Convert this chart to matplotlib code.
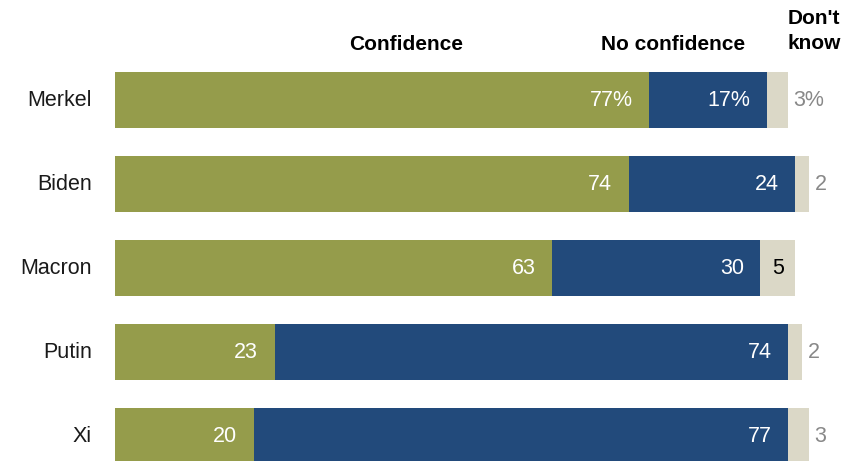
import matplotlib.pyplot as plt

# Data
leaders = ["Merkel", "Biden", "Macron", "Putin", "Xi"]
confidence = [77, 74, 63, 23, 20]
no_confidence = [17, 24, 30, 74, 77]
dont_know = [3, 2, 5, 2, 3]

green = "#959c4b"
blue = "#224a7b"
beige = "#dbd8c7"

plt.rcParams['font.family'] = ['Liberation Sans', 'DejaVu Sans']

fig = plt.figure(figsize=(8.45, 4.61), dpi=100)
ax = fig.add_axes([115 / 845, 0, 694 / 845, 1])

ypos = list(range(len(leaders)))
h = 56 / 84

ax.barh(ypos, confidence, height=h, color=green)
ax.barh(ypos, no_confidence, height=h, left=confidence, color=blue)
left2 = [c + n for c, n in zip(confidence, no_confidence)]
ax.barh(ypos, dont_know, height=h, left=left2, color=beige)

ax.set_xlim(0, 100)
ax.set_ylim((461 - 100) / 84, -100 / 84)
ax.axis('off')

fs = 15.5
pad = 2.4  # data units (~17 px)
for i, name in enumerate(leaders):
    suf = "%" if i == 0 else ""
    ax.text(-3.3, i, name, ha='right', va='center', fontsize=fs, color='#1a1a1a')
    ax.text(confidence[i] - pad, i, f"{confidence[i]}{suf}", ha='right', va='center',
            fontsize=fs, color='white')
    ax.text(left2[i] - pad, i, f"{no_confidence[i]}{suf}", ha='right', va='center',
            fontsize=fs, color='white')
    if dont_know[i] >= 5:
        ax.text(left2[i] + dont_know[i] / 2, i, f"{dont_know[i]}{suf}", ha='center',
                va='center', fontsize=fs, color='black')
    else:
        ax.text(left2[i] + dont_know[i] + 0.8, i, f"{dont_know[i]}{suf}", ha='left',
                va='center', fontsize=fs, color='#888888')

hfs = 15
fig.text(406 / 845, 1 - 45 / 461, "Confidence", ha='center', va='center',
         fontsize=hfs, fontweight='bold')
fig.text(673 / 845, 1 - 45 / 461, "No confidence", ha='center', va='center',
         fontsize=hfs, fontweight='bold')
fig.text(814 / 845, 1 - 31 / 461, "Don't\nknow", ha='center', va='center',
         fontsize=hfs, fontweight='bold', linespacing=1.45)

fig.savefig("out.png", dpi=100)
